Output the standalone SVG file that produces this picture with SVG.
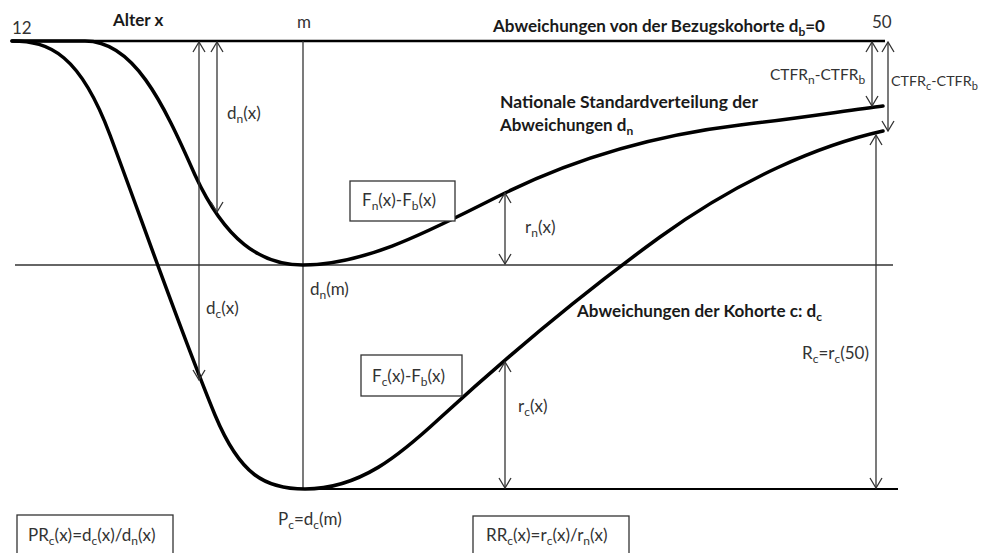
<svg xmlns="http://www.w3.org/2000/svg" width="984" height="553" viewBox="0 0 984 553">
<style>
.t{font-family:Lato,"Liberation Sans",sans-serif;font-size:17px;fill:#333}
.b{font-family:Lato,"Liberation Sans",sans-serif;font-size:17px;font-weight:bold;fill:#1a1a1a}
.c{font-size:15.5px}
.c2{font-size:14.3px}
.s{font-size:12px}
.s2{font-size:11px}
.curve{fill:none;stroke:#000;stroke-width:3.5;stroke-linecap:round;stroke-linejoin:round}
.axis{fill:none;stroke:#000}
.thin{fill:none;stroke:#333;stroke-width:1.3}
.arr{fill:none;stroke:#333;stroke-width:1.3;marker-start:url(#ah);marker-end:url(#ah)}
.box{fill:#fff;stroke:#333;stroke-width:1.3}
</style>
<defs>
<marker id="ah" viewBox="0 0 12 14" refX="11" refY="7" markerWidth="12" markerHeight="14" markerUnits="userSpaceOnUse" orient="auto-start-reverse">
<path d="M1,1 L11,7 L1,13" fill="none" stroke="#333" stroke-width="1.3"/>
</marker>
</defs>
<rect width="984" height="553" fill="#fff"/>
<g id="axes">
<line class="axis" x1="12" y1="41" x2="885" y2="41" stroke-width="2.6"/>
<line class="thin" x1="15" y1="265" x2="893" y2="265"/>
<line class="axis" x1="300" y1="489" x2="898" y2="489" stroke-width="1.8"/>
<line class="thin" x1="303" y1="41" x2="303" y2="489"/>
</g>
<g id="curves">
<path id="curve-n" class="curve" d="M12,41 L85,41 C133,41 162,100 195,175 C225,240 260,265 303,265 C370,265 440,225 505,193 C560,166 640,137 740,125 C800,118 850,110 883,106"/>
<path id="curve-c" class="curve" d="M12,41 C50,41 80,55 110,135 C140,215 180,330 215,415 C240,475 265,489 305,489 C360,489 400,455 440,418 C500,363 580,295 660,237 C740,179 820,145 883,131"/>
</g>
<g id="connectors">
<line class="arr" x1="199" y1="42" x2="199" y2="380"/>
<line class="arr" x1="217" y1="42" x2="217" y2="212"/>
<line class="arr" x1="505" y1="193" x2="505" y2="264"/>
<line class="arr" x1="505" y1="362" x2="505" y2="488"/>
<line class="arr" x1="872" y1="42" x2="872" y2="106"/>
<line class="arr" x1="888" y1="42" x2="888" y2="131"/>
<line class="arr" x1="876" y1="135" x2="876" y2="488"/>
</g>
<g id="labels-top">
<text class="t" x="12" y="34">12</text>
<text class="b" x="113" y="26">Alter x</text>
<text class="t" x="297" y="28">m</text>
<text class="b" x="493" y="32" textLength="332" lengthAdjust="spacingAndGlyphs">Abweichungen von der Bezugskohorte d<tspan class="s" dy="4">b</tspan><tspan dy="-4">=0</tspan></text>
<text class="t" x="872" y="28">50</text>
</g>
<g id="label-dn"><text class="t" x="227" y="119">d<tspan class="s" dy="4">n</tspan><tspan dy="-4">(x)</tspan></text></g>
<g id="label-dc"><text class="t" x="206" y="314">d<tspan class="s" dy="4">c</tspan><tspan dy="-4">(x)</tspan></text></g>
<g id="label-ctfr-n"><text class="t c" x="770" y="80">CTFR<tspan class="s" dy="4">n</tspan><tspan dy="-4">-CTFR</tspan><tspan class="s" dy="4">b</tspan></text></g>
<g id="label-ctfr-c"><text class="t c2" x="891" y="86">CTFR<tspan class="s2" dy="4">c</tspan><tspan dy="-4">-CTFR</tspan><tspan class="s2" dy="4">b</tspan></text></g>
<g id="label-national">
<text class="b" x="500" y="108" textLength="258" lengthAdjust="spacingAndGlyphs">Nationale Standardverteilung der</text>
<text class="b" x="500" y="131">Abweichungen d<tspan class="s" dy="4">n</tspan></text>
</g>
<g id="box-fn">
<rect class="box" x="350" y="181" width="105" height="40"/>
<text class="t" x="362" y="206">F<tspan class="s" dy="4">n</tspan><tspan dy="-4">(x)-F</tspan><tspan class="s" dy="4">b</tspan><tspan dy="-4">(x)</tspan></text>
</g>
<g id="label-rn"><text class="t" x="525" y="233">r<tspan class="s" dy="4">n</tspan><tspan dy="-4">(x)</tspan></text></g>
<g id="label-dnm"><text class="t" x="310" y="295">d<tspan class="s" dy="4">n</tspan><tspan dy="-4">(m)</tspan></text></g>
<g id="label-cohort"><text class="b" x="577" y="317" textLength="245" lengthAdjust="spacingAndGlyphs">Abweichungen der Kohorte c: d<tspan class="s" dy="4">c</tspan></text></g>
<g id="label-rc50"><text class="t" x="802" y="359">R<tspan class="s" dy="4">c</tspan><tspan dy="-4">=r</tspan><tspan class="s" dy="4">c</tspan><tspan dy="-4">(50)</tspan></text></g>
<g id="box-fc">
<rect class="box" x="361" y="355" width="101" height="41"/>
<text class="t" x="372" y="382">F<tspan class="s" dy="4">c</tspan><tspan dy="-4">(x)-F</tspan><tspan class="s" dy="4">b</tspan><tspan dy="-4">(x)</tspan></text>
</g>
<g id="label-rc"><text class="t" x="518" y="412">r<tspan class="s" dy="4">c</tspan><tspan dy="-4">(x)</tspan></text></g>
<g id="label-pc"><text class="t" x="278" y="525">P<tspan class="s" dy="4">c</tspan><tspan dy="-4">=d</tspan><tspan class="s" dy="4">c</tspan><tspan dy="-4">(m)</tspan></text></g>
<g id="box-pr">
<rect class="box" x="17" y="515" width="156" height="50"/>
<text class="t" x="28" y="541">PR<tspan class="s" dy="4">c</tspan><tspan dy="-4">(x)=d</tspan><tspan class="s" dy="4">c</tspan><tspan dy="-4">(x)/d</tspan><tspan class="s" dy="4">n</tspan><tspan dy="-4">(x)</tspan></text>
</g>
<g id="box-rr">
<rect class="box" x="473" y="516" width="156" height="50"/>
<text class="t" x="486" y="541">RR<tspan class="s" dy="4">c</tspan><tspan dy="-4">(x)=r</tspan><tspan class="s" dy="4">c</tspan><tspan dy="-4">(x)/r</tspan><tspan class="s" dy="4">n</tspan><tspan dy="-4">(x)</tspan></text>
</g>
</svg>
